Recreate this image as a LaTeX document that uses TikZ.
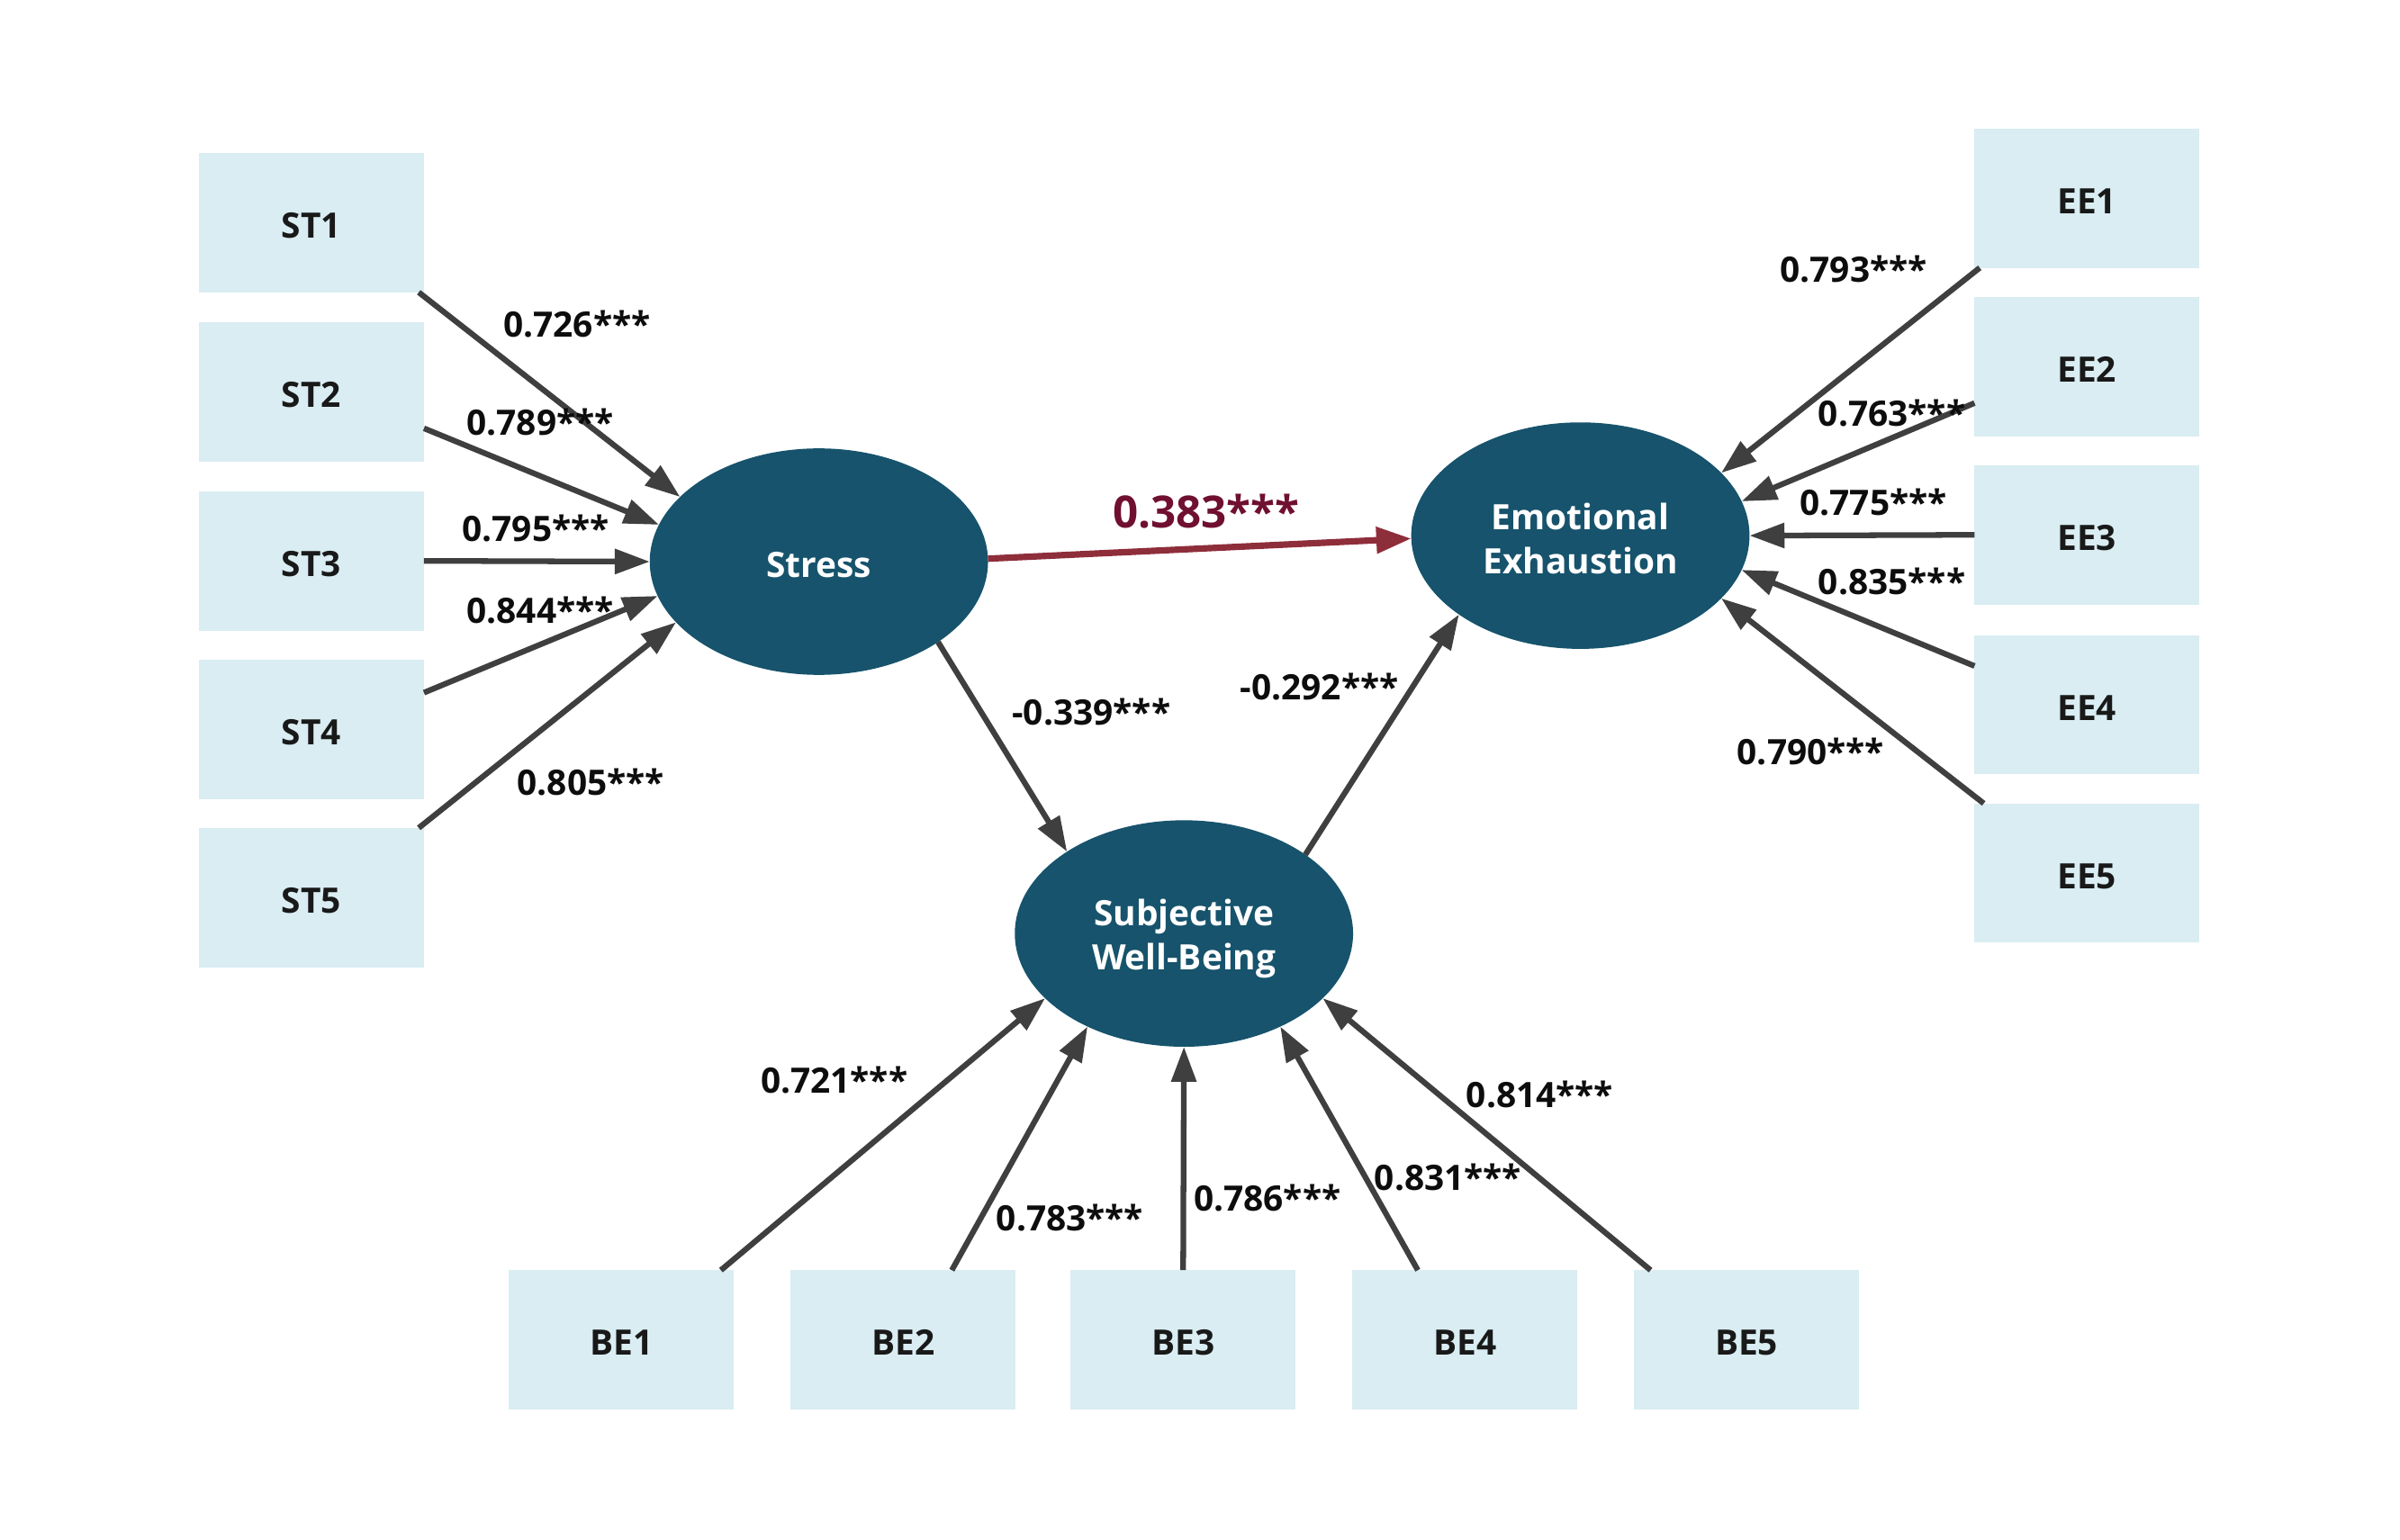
\documentclass[tikz,border=0pt]{standalone}
\usepackage{fontspec}
\setmainfont{Open Sans}
\usetikzlibrary{shapes.geometric, arrows.meta}
\definecolor{boxblue}{HTML}{D9EDF2}
\definecolor{latentblue}{HTML}{17536C}
\definecolor{linegray}{HTML}{3F3F3F}
\definecolor{effectred}{HTML}{8E2E3A}
\definecolor{textred}{HTML}{701030}

\begin{document}
\begin{tikzpicture}[x = 0.2mm, y = -0.2mm,
  item/.style = {fill = boxblue, minimum width = 29.4mm, minimum height = 18.2mm,
    inner sep = 0pt, outer sep = 0pt, text = black!90, text height = 11.4pt,
    text depth = 0pt, font = \fontsize{13}{15}\selectfont\bfseries},
  latent/.style = {ellipse, fill = latentblue, minimum width = 44.2mm,
    minimum height = 29.6mm, inner sep = 0pt, outer sep = 0pt, align = center,
    text = white, text height = 12pt, font = \fontsize{13}{16.5}\selectfont\bfseries},
  load/.style = {draw = linegray, line width = 2.1pt,
    -{Triangle[length = 13pt, width = 9pt]}},
  effect/.style = {draw = effectred, line width = 2.4pt,
    -{Triangle[length = 13pt, width = 9.5pt]}},
  coef/.style = {text = black!95, font = \fontsize{13}{15}\selectfont\bfseries}]
\useasboundingbox[fill = white] (0, 0) rectangle (1568, 1006);
%latent variables
\node[latent] (stress) at (535, 367) {Stress};
\node[latent, text height = 28.8pt] (emo) at (1032.5, 350) {Emotional\\Exhaustion};
\node[latent, text height = 30pt] (swb) at (773.5, 610) {Subjective\\Well-Being};
%stress items
\node[item] (st1) at (203.5, 145.5) {ST1};
\node[item] (st2) at (203.5, 256) {ST2};
\node[item] (st3) at (203.5, 366.5) {ST3};
\node[item] (st4) at (203.5, 476.5) {ST4};
\node[item] (st5) at (203.5, 586.5) {ST5};
%exhaustion items
\node[item] (ee1) at (1363.5, 129.5) {EE1};
\node[item] (ee2) at (1363.5, 239.5) {EE2};
\node[item] (ee3) at (1363.5, 349.5) {EE3};
\node[item] (ee4) at (1363.5, 460.5) {EE4};
\node[item] (ee5) at (1363.5, 570.5) {EE5};
%well-being items
\node[item] (be1) at (406, 875.5) {BE1};
\node[item] (be2) at (590, 875.5) {BE2};
\node[item] (be3) at (773, 875.5) {BE3};
\node[item] (be4) at (957, 875.5) {BE4};
\node[item] (be5) at (1141, 875.5) {BE5};
%loadings
\draw[load] (st1.-33.75) -- (stress.155.9);
\draw[load] (st2.-18.51) -- (stress.167.36);
\draw[load] (st3.0) -- (stress.180);
\draw[load] (st4.18.28) -- (stress.192.47);
\draw[load] (st5.33.51) -- (stress.203.92);
\draw[load] (ee1.213.67) -- (emo.24.04);
\draw[load] (ee2.198.46) -- (emo.12.6);
\draw[load] (ee3.180) -- (emo.0);
\draw[load] (ee4.161.54) -- (emo.-12.6);
\draw[load] (ee5.146.33) -- (emo.-24.04);
\draw[load] (be1.35.85) -- (swb.205.82);
\draw[load] (be2.55.35) -- (swb.224.1);
\draw[load] (be3.90) -- (swb.270);
\draw[load] (be4.124.65) -- (swb.-44.1);
\draw[load] (be5.144.15) -- (swb.-25.82);
%structural paths
\draw[effect] (stress.1.3) -- (emo.181.3);
\draw[load] (stress.-34.3) -- (swb.145.7);
\draw[load] (swb.33.9) -- (emo.213.9);
%coefficients
\node[coef] (c-st1) at (377, 212) {0.726***};
\node[coef] (c-st2) at (353, 276) {0.789***};
\node[coef] (c-st3) at (350, 345) {0.795***};
\node[coef] (c-st4) at (353, 399) {0.844***};
\node[coef] (c-st5) at (386, 511) {0.805***};
\node[coef] (c-ee1) at (1211, 176) {0.793***};
\node[coef] (c-ee2) at (1236, 270) {0.763***};
\node[coef] (c-ee3) at (1224, 328) {0.775***};
\node[coef] (c-ee4) at (1236, 380) {0.835***};
\node[coef] (c-ee5) at (1183, 491) {0.790***};
\node[coef] (c-be1) at (545, 706) {0.721***};
\node[coef] (c-be2) at (699, 796) {0.783***};
\node[coef] (c-be3) at (828, 783) {0.786***};
\node[coef] (c-be4) at (946, 769) {0.831***};
\node[coef] (c-be5) at (1006, 715) {0.814***};
\node[coef] (c-swb) at (713, 465) {-0.339***};
\node[coef] (c-emo) at (862, 449) {-0.292***};
\node[coef, text = textred, font = \fontsize{16.5}{18}\selectfont\bfseries] (c-stress) at (788, 334) {0.383***};
\end{tikzpicture}
\end{document}
